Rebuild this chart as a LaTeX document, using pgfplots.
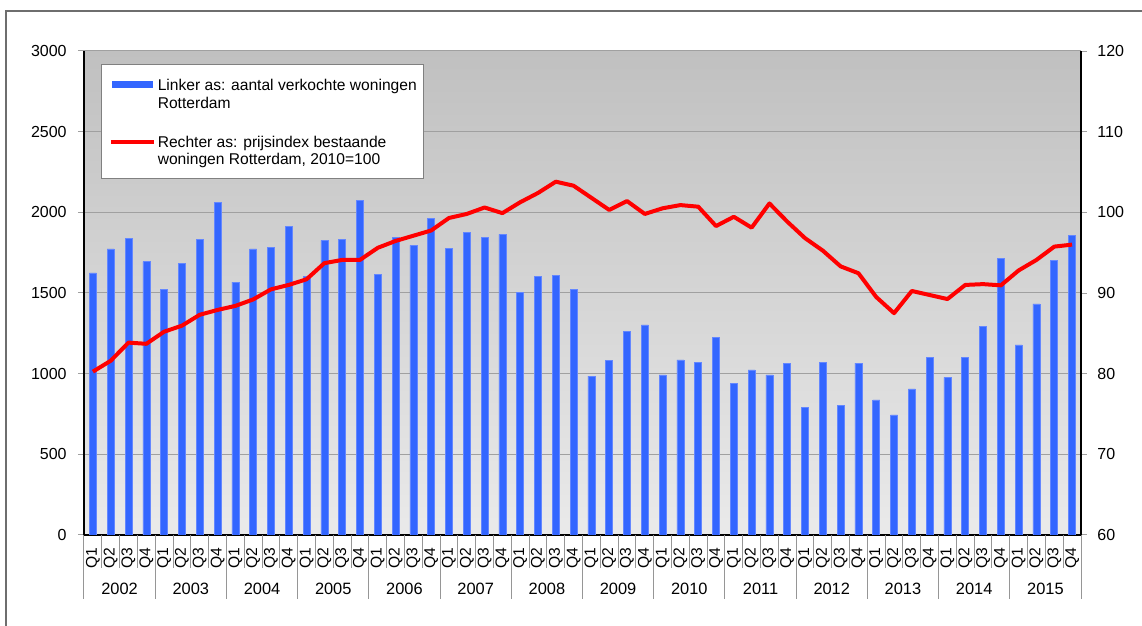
\documentclass[border=0pt]{standalone}
\usepackage{fontspec}
\setmainfont{Liberation Sans}
\usepackage{pgfplots}
\pgfplotsset{compat=1.18}
\definecolor{barblue}{RGB}{51,102,255}
\definecolor{baredge}{RGB}{100,135,255}
\definecolor{gridgray}{RGB}{160,160,160}
\definecolor{sepgray}{RGB}{150,150,150}
\definecolor{framegray}{RGB}{110,110,110}
\definecolor{bgtop}{RGB}{192,192,192}
\definecolor{bgbot}{RGB}{234,234,234}
\begin{document}
\begin{tikzpicture}[x=1pt,y=1pt,font=\fontsize{7.8}{8.85}\selectfont]
\begin{axis}[
  at={(0,0)}, anchor=south west,
  scale only axis, width=498.5pt, height=242pt,
  xmin=-0.5, xmax=55.5, ymin=0, ymax=3000,
  ytick={0,500,...,3000}, xtick=\empty, yticklabels=\empty,
  axis x line*=bottom, axis y line*=left,
  axis line style={black,line width=0.6pt,-},
  ymajorgrids, grid style={gridgray,line width=0.5pt},
  tick align=outside, major tick length=3pt,
  ytick style={gridgray,line width=0.5pt},
  axis background/.style={shade,top color=bgtop,bottom color=bgbot},
  ybar, bar width=3.5pt,
]
\addplot[fill=barblue,draw=baredge,line width=0.3pt] table[x=i,y=v] {
i v
0 1625
1 1773
2 1837
3 1695
4 1523
5 1683
6 1833
7 2062
8 1568
9 1773
10 1785
11 1911
12 1602
13 1826
14 1833
15 2072
16 1617
17 1847
18 1795
19 1961
20 1777
21 1874
22 1845
23 1863
24 1502
25 1603
26 1607
27 1523
28 984
29 1083
30 1264
31 1302
32 992
33 1085
34 1068
35 1227
36 938
37 1023
38 992
39 1064
40 789
41 1070
42 801
43 1066
44 837
45 744
46 905
47 1099
48 977
49 1099
50 1295
51 1715
52 1178
53 1432
54 1704
55 1859
};
\end{axis}
\begin{axis}[
  at={(0,0)}, anchor=south west,
  scale only axis, width=498.5pt, height=242pt,
  xmin=-0.5, xmax=55.5, ymin=60, ymax=120,
  ytick={60,70,...,120}, xtick=\empty, yticklabels=\empty,
  axis x line=none, axis y line*=right,
  axis line style={black,line width=0.6pt,-},
  tick align=outside, major tick length=3pt,
  ytick style={gridgray,line width=0.5pt},
]
\addplot[red,line width=2pt,line join=round,mark=none] table[x=i,y=p] {
i p
0 80.25
1 81.6
2 83.85
3 83.7
4 85.2
5 85.95
6 87.3
7 87.9
8 88.4
9 89.2
10 90.45
11 91.0
12 91.7
13 93.7
14 94.1
15 94.1
16 95.6
17 96.45
18 97.1
19 97.75
20 99.3
21 99.8
22 100.6
23 99.9
24 101.25
25 102.4
26 103.8
27 103.3
28 101.8
29 100.3
30 101.4
31 99.8
32 100.5
33 100.9
34 100.7
35 98.3
36 99.45
37 98.1
38 101.1
39 98.85
40 96.8
41 95.25
42 93.3
43 92.45
44 89.5
45 87.5
46 90.25
47 89.75
48 89.25
49 91.0
50 91.1
51 90.95
52 92.8
53 94.1
54 95.75
55 96.0
};
\end{axis}
% y tick labels
\foreach \j in {0,...,6}{
  \pgfmathsetmacro\yy{\j*242/6}
  \node[anchor=east,inner sep=0pt,font=\fontsize{8}{9}\selectfont] at (-8.5,\yy) {\the\numexpr500*\j\relax};
  \node[anchor=west,inner sep=0pt,font=\fontsize{8}{9}\selectfont] at (506.5,\yy) {\the\numexpr60+10*\j\relax};
}
% category separators
\foreach \k in {0,...,56}{
  \pgfmathsetmacro\xx{\k*8.90179}
  \pgfmathtruncatemacro\r{mod(\k,4)}
  \ifnum\r=0
    \draw[sepgray,line width=0.5pt] (\xx,0) -- (\xx,-32);
  \else
    \draw[sepgray,line width=0.5pt] (\xx,0) -- (\xx,-16.5);
  \fi
}
% quarter labels
\foreach \i in {0,...,55}{
  \pgfmathsetmacro\xx{(\i+0.5)*8.90179}
  \pgfmathtruncatemacro\q{mod(\i,4)+1}
  \node[rotate=90,anchor=east,inner sep=0pt] at (\xx,-6) {Q\q};
}
% year labels
\foreach \y in {0,...,13}{
  \pgfmathsetmacro\xx{(4*\y+2)*8.90179}
  \node[inner sep=0pt,font=\fontsize{8.2}{9}\selectfont] at (\xx,-27) {\the\numexpr2002+\y\relax};
}
% legend
\fill[white] (9,178) rectangle (169.5,235);
\draw[gray,line width=0.5pt] (9,178) rectangle (169.5,235);
\fill[barblue] (13.85,223.35) rectangle (34.35,227);
\draw[red,line width=2pt] (13.5,196.3) -- (35,196.3);
\node[anchor=base west,inner sep=0pt] at (36.7,222.15) {Linker as: aantal verkochte woningen};
\node[anchor=base west,inner sep=0pt] at (36.7,213.35) {Rotterdam};
\node[anchor=base west,inner sep=0pt] at (36.7,193.85) {Rechter as: prijsindex bestaande};
\node[anchor=base west,inner sep=0pt] at (36.7,185) {woningen Rotterdam, 2010=100};
% frame
\draw[framegray,line width=0.6pt] (-39,-60) -- (-39,262) -- (560,262);
\pgfresetboundingbox
\path[use as bounding box] (-42,-45.5) rectangle (529,267.5);
\end{tikzpicture}
\end{document}
